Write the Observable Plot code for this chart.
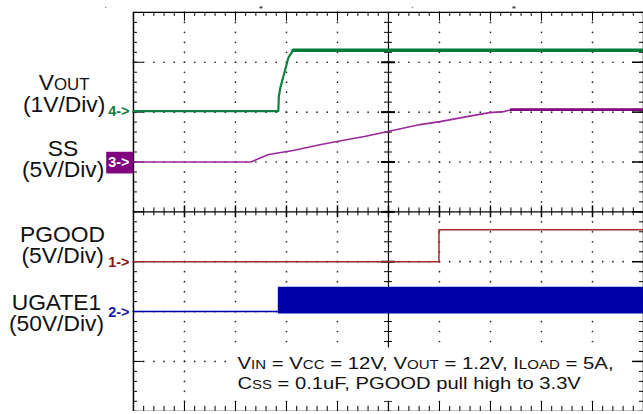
<!DOCTYPE html>
<html>
<head>
<meta charset="utf-8">
<script src="https://cdn.jsdelivr.net/npm/d3@7"></script>
<script src="https://cdn.jsdelivr.net/npm/@observablehq/plot@0.6"></script>
<style>
  html, body { margin: 0; padding: 0; background: #fff; overflow: hidden; }
  #chart svg { display: block; }
</style>
</head>
<body>
<div id="chart"></div>
<script>
// ---- Data (units: scope divisions; x 0..10, y -4..4, centre = 0) ----
// Channel 4: VOUT (1V/Div)
const voutX = [0, 2.84, 2.85, 2.88, 3.04, 3.13, 10];
const voutY = [2.02, 2.02, 2.31, 2.49, 3.10, 3.24, 3.24];
// Channel 3: SS (5V/Div)
const ssX = [0, 2.30, 2.65, 3.13, 3.68, 4.20, 4.53, 5.08, 5.62, 6.01, 6.54, 6.98, 7.26, 7.41, 10];
const ssY = [1.0, 1.0, 1.15, 1.23, 1.35, 1.45, 1.51, 1.63, 1.75, 1.81, 1.91, 1.99, 2.01, 2.05, 2.05];
// Channel 1: PGOOD (5V/Div)
const pgoodX = [0, 5.99, 5.99, 10];
const pgoodY = [-1.0, -1.0, -0.36, -0.36];
// Channel 2: UGATE1 (50V/Div) - idle line then switching band
const ugateX = [0, 2.84];
const ugateY = [-2.0, -2.0];
const ugateBandX = [2.84, 10];
const ugateBandLow = [-2.05, -2.05];
const ugateBandHigh = [-1.51, -1.51];

// Channel markers
const markerText = ["4->", "3->", "1->", "2->"];
const markerLevel = [2.02, 1.0, -1.0, -2.0];
const markerColor = ["#0b7d3e", "#ffffff", "#8e1414", "#1a1aaa"];

// Left labels (two lines each)
const labelText = ["V{OUT}\n(1V/Div)", "SS\n(5V/Div)", "PGOOD\n(5V/Div)", "UGATE1\n(50V/Div)"];
const labelX = [-1.36, -1.38, -1.39, -1.51];
const labelY = [2.01, 0.70, -1.03, -2.39];

// Conditions note
const noteLines = ["V{IN} = V{CC} = 12V, V{OUT} = 1.2V, I{LOAD} = 5A,", "C{SS} = 0.1uF, PGOOD pull high to 3.3V"];
const noteY = [-3.16, -3.56];
const noteWidth = [379, 346];

// small marks above the graticule
const topMarkX = [-0.545, 2.51, 5.47, 7.47];
const topMarkKind = ["dot", "dash", "dot", "dash"];

// ---- Graticule helpers ----
const minorX = d3.range(51).map(i => i / 5);
const minorY = d3.range(41).map(i => -4 + i / 5);
const majorX = d3.range(1, 10);
const majorY = d3.range(-3, 4);
const pxX = 51.4, pxY = 50.25;
const dotsH = majorY.filter(y => y !== 0).flatMap(y => minorX.map(x => ({x, y})));
const dotsV = majorX.filter(x => x !== 5).flatMap(x => minorY.map(y => ({x, y})));

const tbl = (xs, ys) => xs.map((x, i) => ({x, y: ys[i]}));
const vout = tbl(voutX, voutY);
const ss = tbl(ssX, ssY);
const pgood = tbl(pgoodX, pgoodY);
const ugate = tbl(ugateX, ugateY);
const band = ugateBandX.map((x, i) => ({x, lo: ugateBandLow[i], hi: ugateBandHigh[i]}));
const markers = markerText.map((t, i) => ({t, y: markerLevel[i], c: markerColor[i]}));
const labels = labelText.map((t, i) => ({t, x: labelX[i], y: labelY[i]}));
const notes = noteLines.map((t, i) => ({t, y: noteY[i]}));
const FONT = "Liberation Sans, Arial, Helvetica, sans-serif";

const svg = Plot.plot({
  width: 648, height: 414,
  marginLeft: 134, marginRight: 0, marginTop: 12, marginBottom: 0,
  x: {domain: [0, 10], axis: null},
  y: {domain: [-4, 4], axis: null},
  style: {background: "#fff", fontFamily: FONT, overflow: "visible"},
  marks: [
    // dotted grid
    Plot.dot(dotsH, {x: "x", y: "y", r: 0.85, fill: "#222", stroke: null}),
    Plot.dot(dotsV, {x: "x", y: "y", r: 0.85, fill: "#222", stroke: null}),
    // centre lines with ticks
    Plot.ruleX([5], {stroke: "#000", strokeWidth: 1.2}),
    Plot.ruleY([0], {stroke: "#000", strokeWidth: 1.2}),
    Plot.ruleY(minorY, {y: d => d, x1: 5 - 4 / pxX, x2: 5 + 4 / pxX, stroke: "#000"}),
    Plot.ruleY(majorY, {y: d => d, x1: 5 - 7 / pxX, x2: 5 + 7 / pxX, stroke: "#000", strokeWidth: 2}),
    Plot.ruleX(minorX, {x: d => d, y1: -4 / pxY, y2: 4 / pxY, stroke: "#000"}),
    Plot.ruleX(majorX, {x: d => d, y1: -6 / pxY, y2: 6 / pxY, stroke: "#000", strokeWidth: 1.5}),
    // white background behind the note
    Plot.rect([0], {x1: 1.91, x2: 10, y1: -2.73, y2: -3.80, fill: "#fff"}),
    // frame
    Plot.ruleX([0, 10], {stroke: "#000", strokeWidth: 1.5}),
    Plot.ruleY([-4, 4], {stroke: "#000", strokeWidth: 1.2}),
    Plot.ruleX(minorX, {x: d => d, y1: 4, y2: 4 - 4 / pxY, stroke: "#000"}),
    Plot.ruleX(majorX, {x: d => d, y1: 4, y2: 4 - 9 / pxY, stroke: "#000"}),
    Plot.ruleX(minorX, {x: d => d, y1: -4, y2: -4 + 5 / pxY, stroke: "#000"}),
    Plot.ruleX(majorX, {x: d => d, y1: -4, y2: -4 + 10 / pxY, stroke: "#000"}),
    Plot.ruleY(minorY, {y: d => d, x1: 0, x2: 4 / pxX, stroke: "#000"}),
    Plot.ruleY(majorY, {y: d => d, x1: 0, x2: 10 / pxX, stroke: "#000"}),
    Plot.ruleY(minorY, {y: d => d, x1: 10, x2: 10 - 4 / pxX, stroke: "#000"}),
    Plot.ruleY(majorY, {y: d => d, x1: 10, x2: 10 - 11 / pxX, stroke: "#000", strokeWidth: 1.5}),
    // top marks
    Plot.dot(topMarkX.map((x, i) => ({x, k: topMarkKind[i]})).filter(d => d.k === "dot"),
      {x: "x", y: 4.1, r: 0.8, fill: "#999", stroke: null}),
    Plot.ruleY(topMarkX.map((x, i) => ({x, k: topMarkKind[i]})).filter(d => d.k === "dash"),
      {y: 4.1, x1: d => d.x - 1.5 / pxX, x2: d => d.x + 1.5 / pxX, stroke: "#444", strokeWidth: 2}),
    // traces
    Plot.areaY(band, {x: "x", y1: "lo", y2: "hi", fill: "#0000a8", curve: "linear"}),
    Plot.line(ugate, {x: "x", y: "y", stroke: "#0000b0", strokeWidth: 1.5}),
    Plot.line(pgood, {x: "x", y: "y", stroke: "#a5282a", strokeWidth: 1.5}),
    Plot.line(ss, {x: "x", y: "y", stroke: "#9a2a9a", strokeWidth: 1.6}),
    Plot.line(ss, {x: "x", y: "y", filter: d => d.x >= 7.41, stroke: "#800080", strokeWidth: 3}),
    Plot.line(vout, {x: "x", y: "y", stroke: "#108040", strokeWidth: 2.2}),
    Plot.line(vout, {x: "x", y: "y", filter: d => d.x >= 3.13, stroke: "#007a3a", strokeWidth: 3.5}),
    // channel markers
    Plot.rect(markers.filter(d => d.t === "3->"), {x1: -0.525, x2: 0, y1: d => d.y - 0.24, y2: d => d.y + 0.195, fill: "#800080"}),
    Plot.text(markers, {x: 0, y: "y", text: "t", fill: d => d.c, textAnchor: "end", dx: -4, dy: 0.5,
      fontSize: 14.5, fontWeight: "bold", fontFamily: FONT}),
    // labels
    Plot.text(labels, {x: "x", y: "y", text: "t", lineAnchor: "bottom", textAnchor: "middle", lineHeight: 0.94,
      fontSize: 23, fill: "#111", fontFamily: FONT}),
    Plot.text(notes, {x: 2.04, y: "y", text: "t", lineAnchor: "bottom", textAnchor: "start",
      fontSize: 17, fill: "#111", fontFamily: FONT})
  ]
});

// subscript-style text: {..} parts become smaller tspans on the baseline
function richify(node) {
  const t = node.textContent;
  if (!t.includes("{")) return;
  const el = d3.select(node);
  el.text(null);
  t.split(/(\{[^}]*\})/).filter(s => s).forEach(s => {
    if (s.startsWith("{")) el.append("tspan").attr("font-size", "0.74em").text(s.slice(1, -1));
    else el.append("tspan").text(s);
  });
}
d3.select(svg).selectAll("text").each(function () {
  const lines = d3.select(this).selectAll(":scope > tspan").nodes();
  const orig = this.textContent;
  if (lines.length) lines.forEach(richify);
  else richify(this);
  const ni = noteLines.indexOf(orig);
  if (ni >= 0) d3.select(this).attr("textLength", noteWidth[ni]).attr("lengthAdjust", "spacingAndGlyphs");
});

document.getElementById("chart").appendChild(svg);
</script>
</body>
</html>
